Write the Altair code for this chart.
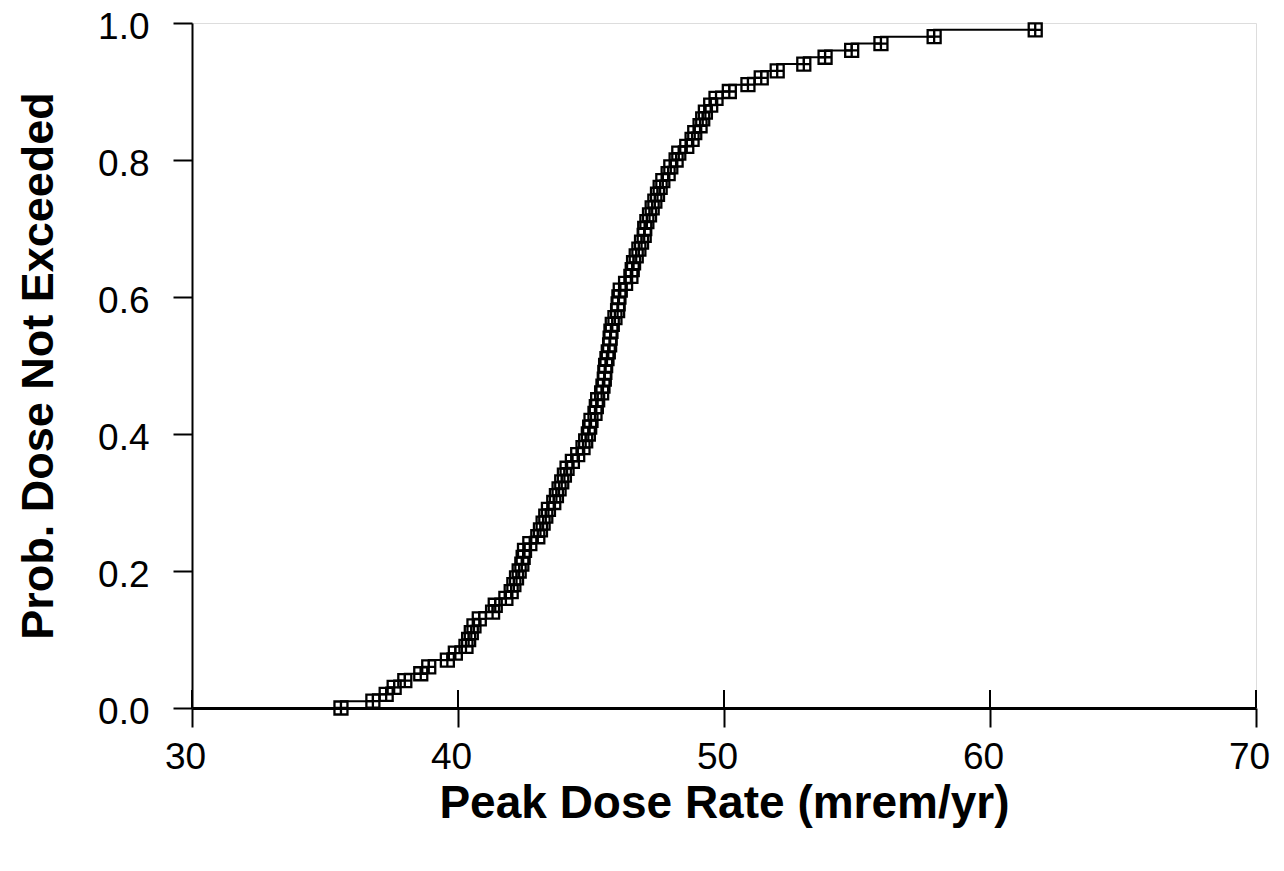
import altair as alt
import pandas as pd

dose = [35.6, 36.8, 37.3, 37.6, 38.0, 38.6, 38.9, 39.6, 39.9, 40.3,
        40.4, 40.5, 40.6, 40.8, 41.3, 41.4, 41.8, 42.0, 42.1, 42.2,
        42.3, 42.4, 42.45, 42.5, 42.7, 43.0, 43.1, 43.2, 43.3, 43.4,
        43.6, 43.7, 43.8, 43.9, 44.0, 44.1, 44.3, 44.5, 44.7, 44.8,
        44.9, 44.95, 45.0, 45.15, 45.2, 45.25, 45.4, 45.45, 45.5, 45.52,
        45.55, 45.6, 45.65, 45.7, 45.72, 45.75, 45.8, 45.9, 46.0, 46.02,
        46.05, 46.1, 46.3, 46.5, 46.55, 46.6, 46.7, 46.8, 46.9, 47.0,
        47.02, 47.1, 47.2, 47.3, 47.4, 47.5, 47.6, 47.7, 47.9, 48.0,
        48.2, 48.3, 48.6, 48.8, 48.9, 49.1, 49.2, 49.3, 49.5, 49.7,
        50.2, 50.9, 51.4, 52.0, 53.0, 53.8, 54.8, 55.9, 57.9, 61.7]
prob = [i / 100 for i in range(len(dose))]

x_ticks = [30, 40, 50, 60, 70]
y_ticks = [0.0, 0.2, 0.4, 0.6, 0.8, 1.0]

df = pd.DataFrame({"dose": dose, "prob": prob})
tick_df = pd.DataFrame({"t": x_ticks})

FONT = "Liberation Sans"

xs = alt.Scale(domain=[30, 70], nice=False, zero=False)
ys = alt.Scale(domain=[0, 1], nice=False)

x_axis = alt.Axis(values=x_ticks, format="d", title="Peak Dose Rate (mrem/yr)",
                  grid=False, tickSize=19, tickWidth=2, tickColor="black",
                  domainColor="black", domainWidth=3, labelFontSize=37,
                  labelColor="black", labelPadding=12, labelFont=FONT,
                  labelFlush=False, labelOffset=-7,
                  titleFont=FONT, titleFontSize=46, titleFontWeight="bold",
                  titleColor="black", titlePadding=6)
y_axis = alt.Axis(values=y_ticks, format=".1f", title="Prob. Dose Not Exceeded",
                  grid=False, tickSize=19, tickWidth=2, tickColor="black",
                  domainColor="black", domainWidth=2, labelFontSize=37,
                  labelColor="black", labelPadding=24, labelFont=FONT,
                  labelFlush=False, labelOffset=4,
                  titleFont=FONT, titleFontSize=45, titleFontWeight="bold",
                  titleColor="black", titlePadding=36)

line = alt.Chart(df).mark_line(interpolate="step-before", color="black",
                               strokeWidth=2).encode(
    x=alt.X("dose:Q", scale=xs, axis=x_axis),
    y=alt.Y("prob:Q", scale=ys, axis=y_axis),
)

pts = alt.Chart(df).mark_point(
    shape="M-1,-1H1V1H-1Z M0,-1V1 M-1,0H1", size=169, filled=False,
    color="black", strokeWidth=2.3, opacity=1,
).encode(x=alt.X("dose:Q", scale=xs), y=alt.Y("prob:Q", scale=ys))

inner_ticks = alt.Chart(tick_df).mark_rule(color="black", strokeWidth=2).encode(
    x=alt.X("t:Q", scale=xs),
    y=alt.value(667),
    y2=alt.value(685),
)

chart = alt.layer(line, pts, inner_ticks).properties(
    width=1064, height=685,
    autosize=alt.AutoSizeParams(type="none"),
    padding={"left": 184, "top": 15, "right": 20, "bottom": 140},
).configure_view(stroke="black", strokeWidth=2).configure(background="white")

chart.save("out.html", embed_options={"renderer": "svg", "actions": False})
